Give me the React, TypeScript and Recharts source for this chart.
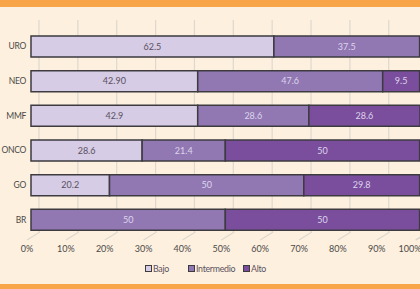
import React from 'react';
import { BarChart, Bar, XAxis, YAxis, CartesianGrid, LabelList } from 'recharts';

const categories = ['URO', 'NEO', 'MMF', 'ONCO', 'GO', 'BR'];
const bajo = [62.5, 42.9, 42.9, 28.6, 20.2, 0];
const bajoLabels = ['62.5', '42.90', '42.9', '28.6', '20.2', ''];
const intermedio = [37.5, 47.6, 28.6, 21.4, 50, 50];
const alto = [0, 9.5, 28.6, 50, 29.8, 50];
const xTicks = [0, 10, 20, 30, 40, 50, 60, 70, 80, 90, 100];

const series = [
  { key: 'bajo', name: 'Bajo', color: '#d6cce5', legendX: 145 },
  { key: 'intermedio', name: 'Intermedio', color: '#9178b3', legendX: 188 },
  { key: 'alto', name: 'Alto', color: '#7a4e9c', legendX: 243 },
];

const data = categories.map((name, i) => ({
  name,
  bajo: bajo[i],
  bajoLabel: bajoLabels[i],
  intermedio: intermedio[i],
  intermedioLabel: intermedio[i] ? String(intermedio[i]) : '',
  alto: alto[i],
  altoLabel: alto[i] ? String(alto[i]) : '',
}));

const font = 'Lato, "Open Sans", sans-serif';

// back-plane grid line plus the little floor diagonal
const GridLine = (props: any) => {
  const { x1, y1, y2, index } = props;
  const bx = x1 + 8;
  return (
    <g key={`g-${index}`}>
      <line x1={bx} y1={y1 - 9} x2={bx} y2={y2 - 5} stroke="#ddd8d0" strokeWidth={1.2} />
      <line x1={bx + 1} y1={y2 - 5} x2={x1 - 4} y2={y2 + 3} stroke="#ddd8d0" strokeWidth={1.2} />
    </g>
  );
};

const XTick = (props: any) => {
  const { x, y, payload } = props;
  return (
    <text x={Math.min(x - 4, 410)} y={y + 15} textAnchor="middle" fontSize={9} fill="#4a4a4a" fontFamily={font}>
      {payload.value}%
    </text>
  );
};

export default function App() {
  return (
    <div style={{ position: 'relative', width: 420, height: 289, background: '#fef0de', overflow: 'hidden' }}>
      <style>{'body{margin:0}'}</style>
      <div style={{ position: 'absolute', left: 0, top: 0, width: 420, height: 7, background: '#f8a54a' }} />
      <div style={{ position: 'absolute', left: 0, top: 284, width: 420, height: 5, background: '#f8a54a' }} />
      <BarChart
        width={420}
        height={289}
        data={data}
        layout="vertical"
        margin={{ top: 29, right: 0, bottom: 0, left: 0 }}
        barSize={21}
      >
        <CartesianGrid horizontal={false} vertical={GridLine} />
        <XAxis
          type="number"
          domain={[0, 100]}
          ticks={xTicks}
          axisLine={false}
          tickLine={false}
          tickSize={0}
          tickMargin={0}
          height={52}
          tick={<XTick />}
          interval={0}
        />
        <YAxis
          type="category"
          dataKey="name"
          width={31}
          axisLine={false}
          tickLine={false}
          tickSize={3}
          tickMargin={2}
          tick={{ fontSize: 8.5, fill: '#4a4a4a', fontFamily: font, letterSpacing: -0.3 }}
        />
        {series.map((s) => (
          <Bar
            key={s.key}
            dataKey={s.key}
            name={s.name}
            stackId="a"
            fill={s.color}
            stroke="#3d3a40"
            strokeWidth={1.5}
            isAnimationActive={false}
          >
            <LabelList
              dataKey={`${s.key}Label`}
              position="center"
              fontSize={9}
              fontFamily={font}
              fill={s.key === 'bajo' ? '#5a5060' : '#ddd4ec'}
            />
          </Bar>
        ))}
      </BarChart>
      {series.map((s) => (
        <div
          key={s.key}
          style={{
            position: 'absolute',
            top: 263,
            left: s.legendX,
            display: 'flex',
            alignItems: 'center',
            fontFamily: font,
            fontSize: 8.8,
            letterSpacing: -0.3,
            color: '#5a5060',
          }}
        >
          <span
            style={{
              display: 'inline-block',
              width: 5,
              height: 5,
              background: s.color,
              border: '1px solid #3d3a40',
              marginRight: 1,
            }}
          />
          {s.name}
        </div>
      ))}
    </div>
  );
}
